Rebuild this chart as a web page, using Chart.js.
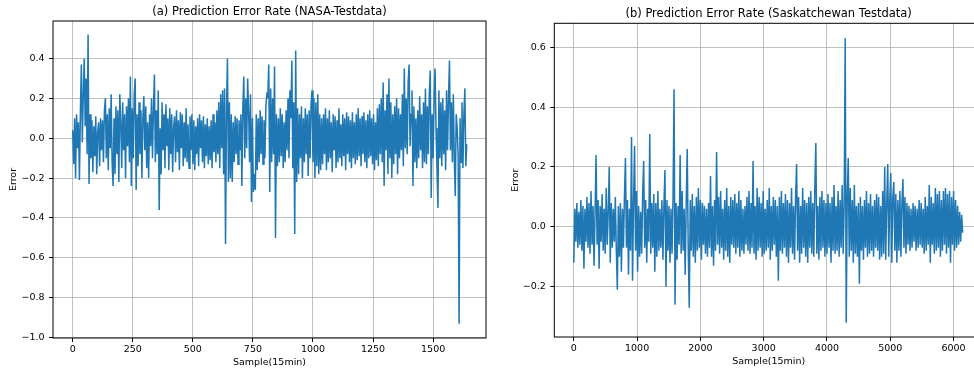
<!DOCTYPE html>
<html lang="en">
<head>
<meta charset="UTF-8">
<title>Prediction Error Rate</title>
<script src="https://cdn.jsdelivr.net/npm/chart.js"></script>
<style>
  html, body { margin: 0; padding: 0; background: #fff; overflow: hidden; width: 974px; height: 374px; }
  canvas { position: absolute; top: 0; }
</style>
</head>
<body>
<canvas id="chartA" width="490" height="374" style="left:0"></canvas>
<canvas id="chartB" width="510" height="374" style="left:490px"></canvas>
<script>
// (a) NASA test data: error, one value every 4 samples
const stepA = 4;
const errorA = [
  0.04, -0.13, 0.10, -0.20, 0.12, -0.05, 0.08, -0.21, 0.13, 0.37,
  -0.02, 0.22, 0.40, 0.06, 0.30, -0.08, 0.52, -0.23, 0.12, -0.10,
  0.09, -0.17, 0.06, -0.09, 0.11, -0.18, 0.03, 0.08, -0.14, 0.10,
  -0.06, 0.09, -0.12, 0.14, 0.20, -0.10, 0.12, -0.16, 0.15, -0.05,
  0.22, -0.12, -0.24, 0.10, -0.18, 0.16, -0.08, 0.14, -0.22, 0.22,
  0.08, -0.15, 0.18, -0.06, 0.12, -0.20, 0.16, -0.04, 0.20, -0.12,
  0.31, -0.24, 0.15, -0.10, 0.22, 0.30, -0.26, 0.12, -0.14, 0.18,
  -0.08, 0.14, -0.20, 0.10, 0.21, -0.06, 0.16, -0.15, 0.08, -0.20,
  0.12, -0.04, 0.20, -0.10, 0.15, 0.32, -0.12, 0.14, -0.08, 0.24,
  -0.36, 0.05, -0.18, 0.18, -0.06, 0.12, -0.15, 0.17, -0.04, 0.10,
  -0.16, 0.15, -0.08, 0.12, -0.17, 0.06, 0.11, -0.12, 0.14, -0.07,
  0.09, -0.16, 0.13, -0.05, 0.12, -0.14, 0.08, -0.10, 0.15, -0.12,
  0.07, -0.15, 0.11, -0.06, 0.12, -0.13, 0.09, -0.16, 0.06, -0.08,
  0.10, -0.14, 0.12, -0.05, 0.09, -0.12, 0.11, -0.15, 0.07, -0.09,
  0.10, -0.13, 0.06, -0.11, 0.09, -0.15, 0.12, -0.07, 0.08, -0.12,
  0.14, -0.08, 0.18, -0.15, 0.22, -0.05, 0.24, -0.18, 0.25, -0.53,
  0.15, 0.40, -0.22, 0.18, -0.20, 0.12, -0.22, 0.08, -0.12, 0.11,
  -0.08, 0.10, -0.13, 0.09, -0.06, 0.12, -0.24, 0.15, 0.31, -0.10,
  0.20, -0.05, 0.30, 0.14, -0.12, 0.22, -0.32, 0.10, -0.27, -0.18,
  -0.26, 0.12, -0.16, 0.10, -0.12, 0.14, -0.08, 0.11, -0.13, 0.09,
  -0.10, 0.16, 0.22, 0.21, 0.37, -0.27, 0.25, -0.12, 0.20, -0.08,
  0.36, -0.50, 0.12, -0.14, 0.10, -0.12, 0.15, -0.09, 0.12, -0.15,
  0.08, -0.12, 0.14, -0.06, 0.20, -0.10, 0.24, 0.10, 0.39, -0.15,
  0.18, -0.48, 0.44, -0.22, 0.15, -0.18, 0.12, -0.10, 0.16, -0.20,
  0.10, -0.12, 0.15, -0.08, 0.12, -0.19, 0.14, -0.10, 0.17, 0.24,
  -0.12, 0.20, -0.20, 0.18, -0.14, 0.22, -0.18, 0.12, -0.16, 0.10,
  -0.13, 0.12, -0.08, 0.15, -0.16, 0.10, -0.12, 0.14, -0.10, 0.08,
  -0.17, 0.12, -0.06, 0.11, -0.15, 0.09, -0.12, 0.15, -0.10, 0.07,
  -0.14, 0.12, -0.09, 0.10, -0.16, 0.13, -0.08, 0.11, -0.12, 0.09,
  -0.15, 0.13, -0.10, 0.08, -0.13, 0.12, -0.11, 0.15, -0.09, 0.10,
  -0.14, 0.11, -0.08, 0.13, -0.12, 0.09, -0.15, 0.12, -0.10, 0.14,
  -0.09, 0.10, -0.13, 0.12, -0.16, 0.08, -0.11, 0.15, -0.14, 0.17,
  -0.08, 0.20, -0.12, 0.28, -0.24, 0.14, -0.06, 0.22, -0.18, 0.30,
  -0.10, 0.18, -0.20, 0.12, -0.13, 0.16, -0.08, 0.20, -0.18, 0.15,
  -0.10, 0.12, -0.06, 0.22, -0.14, 0.35, -0.05, 0.20, -0.08, 0.28,
  0.37, -0.04, 0.12, 0.24, -0.24, 0.16, -0.12, 0.10, -0.15, 0.14,
  -0.10, 0.21, -0.06, 0.12, -0.15, 0.18, -0.12, 0.25, -0.13, 0.16,
  -0.08, 0.22, 0.34, -0.30, 0.12, -0.10, 0.20, 0.35, 0.05, -0.15,
  -0.35, 0.24, -0.10, 0.18, -0.14, 0.20, -0.08, 0.14, -0.16, 0.24,
  -0.06, 0.20, 0.39, -0.06, 0.18, -0.12, 0.22, -0.10, -0.29, 0.12,
  0.05, -0.08, -0.93, 0.10, -0.12, 0.18, -0.15, 0.12, 0.25, -0.14,
  -0.03
];

// (b) Saskatchewan test data: one value every 16 samples
const stepB = 16;
const errorB = [
  -0.12, 0.06, -0.05, 0.08, -0.07, 0.05, -0.06, 0.09, -0.08, 0.07,
  -0.14, 0.06, -0.05, 0.10, -0.07, 0.08, -0.09, 0.12, -0.06, 0.07,
  -0.13, 0.05, 0.24, -0.06, 0.09, -0.14, 0.07, -0.05, 0.11, -0.08,
  0.06, -0.09, 0.13, -0.06, 0.05, 0.20, -0.12, 0.08, -0.07, 0.06,
  -0.05, 0.10, -0.08, -0.21, 0.07, -0.10, 0.08, -0.15, 0.06, -0.07,
  0.10, 0.23, -0.07, 0.09, -0.16, 0.06, -0.08, 0.30, -0.18, 0.08,
  0.27, -0.08, 0.12, -0.15, 0.07, -0.10, 0.05, -0.09, 0.11, 0.22,
  -0.07, 0.09, -0.12, 0.06, -0.05, 0.31, -0.09, 0.08, -0.07, 0.11,
  -0.15, 0.08, -0.10, 0.12, -0.08, 0.06, -0.07, 0.09, -0.11, 0.07,
  0.19, -0.20, 0.09, -0.08, 0.07, -0.12, 0.06, -0.09, 0.10, 0.46,
  -0.26, 0.08, -0.11, 0.07, -0.06, 0.24, -0.09, 0.12, -0.08, 0.06,
  -0.16, 0.08, 0.26, -0.07, -0.27, 0.09, -0.08, 0.11, -0.10, 0.07,
  -0.12, 0.10, -0.08, 0.13, -0.07, 0.09, -0.11, 0.08, -0.06, 0.07,
  -0.09, 0.06, -0.10, 0.08, -0.07, 0.17, -0.10, 0.07, -0.13, 0.09,
  -0.08, 0.25, -0.06, 0.10, -0.09, 0.12, -0.07, 0.06, -0.11, 0.09,
  -0.08, 0.13, -0.10, 0.07, -0.12, 0.10, -0.06, 0.09, -0.07, 0.11,
  -0.09, 0.08, -0.07, 0.12, -0.10, 0.09, -0.08, 0.06, -0.09, 0.07,
  -0.06, 0.10, -0.08, 0.12, -0.09, 0.08, -0.07, 0.22, -0.09, 0.07,
  -0.11, 0.13, -0.08, 0.10, -0.07, 0.08, -0.10, 0.12, -0.09, 0.06,
  -0.08, 0.09, -0.07, 0.13, -0.11, 0.07, -0.08, 0.10, -0.06, 0.09,
  -0.10, 0.07, -0.18, 0.10, -0.08, 0.12, -0.09, 0.08, -0.07, 0.11,
  -0.10, 0.09, -0.12, 0.08, -0.07, 0.13, -0.09, 0.07, -0.11, 0.10,
  0.21, -0.08, 0.10, -0.12, 0.07, -0.09, 0.13, -0.07, 0.09, -0.10,
  0.08, -0.12, 0.10, -0.07, 0.12, -0.09, 0.08, -0.10, 0.13, 0.28,
  -0.09, 0.07, -0.11, 0.10, -0.08, 0.12, -0.07, 0.09, -0.10, 0.08,
  -0.09, 0.11, -0.07, 0.08, -0.12, 0.10, -0.08, 0.14, -0.09, 0.07,
  -0.08, 0.12, -0.10, 0.09, -0.07, 0.14, -0.09, 0.08, 0.63, -0.32,
  0.10, 0.23, -0.10, 0.13, -0.08, 0.09, -0.12, 0.14, -0.09, 0.07,
  -0.10, 0.08, -0.19, 0.10, -0.08, 0.07, -0.11, 0.09, -0.07, 0.12,
  -0.10, 0.08, -0.09, 0.11, -0.08, 0.07, -0.10, 0.09, -0.07, 0.11,
  -0.08, 0.10, -0.11, 0.07, -0.10, 0.12, -0.09, 0.20, -0.11, 0.08,
  0.21, -0.10, 0.09, 0.18, -0.12, 0.10, 0.15, -0.08, 0.11, -0.12,
  0.09, -0.08, 0.12, -0.10, 0.08, 0.16, -0.07, 0.10, -0.09, 0.08,
  -0.06, 0.07, -0.08, 0.06, -0.07, 0.08, -0.05, 0.07, -0.08, 0.06,
  -0.07, 0.09, -0.06, 0.08, -0.07, 0.06, -0.09, 0.10, -0.08, 0.07,
  -0.06, 0.14, -0.12, 0.10, -0.06, 0.08, -0.09, 0.13, -0.08, 0.11,
  -0.07, 0.12, -0.10, 0.09, -0.08, 0.12, -0.06, 0.13, -0.09, 0.11,
  -0.07, 0.12, -0.12, 0.10, -0.06, 0.12, -0.08, 0.09, -0.07, 0.07,
  -0.06, 0.05, -0.05, 0.04, -0.02
];

// axis ticks
const xTicksA = [0, 250, 500, 750, 1000, 1250, 1500];
const yTicksA = [-1.0, -0.8, -0.6, -0.4, -0.2, 0.0, 0.2, 0.4];
const xTicksB = [0, 1000, 2000, 3000, 4000, 5000, 6000];
const yTicksB = [-0.2, 0.0, 0.2, 0.4, 0.6];

const titleA = '(a) Prediction Error Rate (NASA-Testdata)';
const titleB = '(b) Prediction Error Rate (Saskatchewan Testdata)';
const xLabel = 'Sample(15min)';
const yLabel = 'Error';

const FONT = '"DejaVu Sans", "Liberation Sans", sans-serif';

// black frame round the plot area + title centred on it
const frameTitle = {
  id: 'frameTitle',
  afterDraw(chart, args, opts) {
    const { ctx, chartArea: a } = chart;
    ctx.save();
    ctx.strokeStyle = '#000';
    ctx.lineWidth = 1;
    ctx.strokeRect(a.left, a.top, a.right - a.left, a.bottom - a.top);
    ctx.fillStyle = '#000';
    ctx.font = '11.5px ' + FONT;
    ctx.textAlign = 'center';
    ctx.textBaseline = 'middle';
    ctx.fillText(opts.text, (a.left + a.right) / 2, opts.y);
    ctx.restore();
  }
};

function fmtY(v) { return v.toFixed(1).replace('-', '\u2212'); }

function makeChart(id, values, step, c) {
  const pts = values.map((v, k) => ({ x: k * step, y: v }));
  return new Chart(document.getElementById(id), {
    type: 'line',
    data: {
      datasets: [{
        data: pts,
        borderColor: '#1f77b4',
        borderWidth: 1.5,
        pointRadius: 0,
        tension: 0,
        fill: false
      }]
    },
    options: {
      responsive: false,
      animation: false,
      devicePixelRatio: 1,
      layout: { padding: { top: c.top, right: c.right, left: 0, bottom: 0 } },
      plugins: {
        legend: { display: false },
        tooltip: { enabled: false },
        frameTitle: { text: c.title, y: c.titleY }
      },
      scales: {
        x: {
          type: 'linear',
          min: c.xMin, max: c.xMax,
          afterFit: s => { s.height = c.xH; },
          afterBuildTicks: s => { s.ticks = c.xTicks.map(v => ({ value: v })); },
          border: { display: false },
          grid: { color: '#b0b0b0', lineWidth: 0.8, tickColor: '#000', tickLength: 4, tickWidth: 1 },
          ticks: {
            autoSkip: false, maxRotation: 0,
            padding: 2, color: '#000', font: { family: FONT, size: 9.5 },
            callback: v => String(v)
          },
          title: { display: true, text: xLabel, color: '#000', padding: c.xTitlePad, font: { family: FONT, size: 9.5 } }
        },
        y: {
          min: c.yMin, max: c.yMax,
          afterFit: s => { s.width = c.yW; },
          afterBuildTicks: s => { s.ticks = c.yTicks.map(v => ({ value: v })); },
          border: { display: false },
          grid: { color: '#b0b0b0', lineWidth: 0.8, tickColor: '#000', tickLength: 4, tickWidth: 1 },
          ticks: {
            autoSkip: false,
            padding: 4.5, color: '#000', font: { family: FONT, size: 9.5 },
            callback: v => fmtY(v)
          },
          title: { display: true, text: yLabel, color: '#000', padding: c.yTitlePad, font: { family: FONT, size: 9.5 } }
        }
      }
    },
    plugins: [frameTitle]
  });
}

makeChart('chartA', errorA, stepA, {
  title: titleA, titleY: 11.7,
  top: 21, right: 4, xH: 36, yW: 53,
  xMin: -82, xMax: 1720, xTicks: xTicksA,
  yMin: -1.002, yMax: 0.588, yTicks: yTicksA,
  xTitlePad: 6, yTitlePad: 7.6
});

makeChart('chartB', errorB, stepB, {
  title: titleB, titleY: 13.7,
  top: 23.3, right: 17, xH: 37, yW: 64.3,
  xMin: -308, xMax: 6465, xTicks: xTicksB,
  yMin: -0.368, yMax: 0.680, yTicks: yTicksB,
  xTitlePad: 6.5, yTitlePad: 20
});
</script>
</body>
</html>
